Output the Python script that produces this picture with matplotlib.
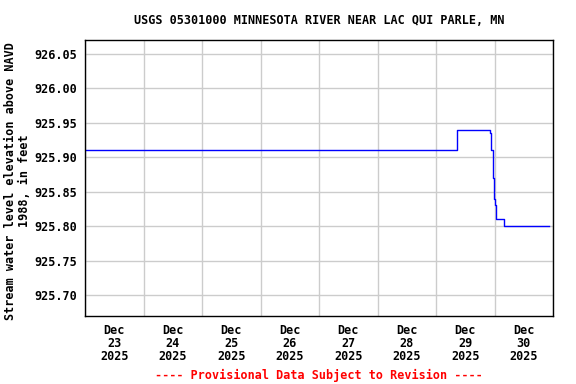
import matplotlib
matplotlib.use("Agg")
import matplotlib.pyplot as plt
import matplotlib.dates as mdates
import numpy as np
from datetime import datetime, timedelta

# Data (15-min gauge record, step changes)
times = [
    "2025-12-23 00:00", "2025-12-29 08:30", "2025-12-29 08:45",
    "2025-12-29 22:15", "2025-12-29 22:45", "2025-12-29 23:15",
    "2025-12-29 23:30", "2025-12-29 23:45", "2025-12-30 00:00",
    "2025-12-30 00:30", "2025-12-30 00:45", "2025-12-30 04:00",
    "2025-12-30 22:30",
]
values = [925.91, 925.92, 925.94, 925.935, 925.91, 925.90,
          925.87, 925.84, 925.83, 925.825, 925.81, 925.80, 925.80]
yticks = [925.70, 925.75, 925.80, 925.85, 925.90, 925.95, 926.00, 926.05]
day_labels = ["23", "24", "25", "26", "27", "28", "29", "30"]

title = "USGS 05301000 MINNESOTA RIVER NEAR LAC QUI PARLE, MN"
ylabel = "Stream water level elevation above NAVD\n1988, in feet"
footer = "---- Provisional Data Subject to Revision ----"

t = [datetime.strptime(s, "%Y-%m-%d %H:%M") for s in times]

font = {"family": "DejaVu Sans Mono", "weight": "bold", "size": 8.5}

fig = plt.figure(figsize=(5.76, 3.84), dpi=100)
ax = fig.add_axes([85/576, 1-316/384, (553-85)/576, (316-40)/384])

ax.plot(t, values, color="#0000ff", linewidth=1.0, drawstyle="steps-post")

start = datetime(2025, 12, 23)
end = datetime(2025, 12, 31)
ax.set_xlim(start, end)
ax.set_ylim(925.6695, 926.0703)

# grid at midnight, labels at noon
midnights = [start + timedelta(days=i) for i in range(9)]
noons = [start + timedelta(days=i, hours=12) for i in range(8)]
ax.set_xticks(midnights)
ax.set_xticklabels([""] * len(midnights))
ax.set_xticks(noons, minor=True)
labs = ax.set_xticklabels([f"Dec\n{d}\n2025" for d in day_labels], minor=True, **font)
for lb in labs:
    lb.set_linespacing(1.0)
ax.tick_params(axis="x", which="both", length=0)
ax.tick_params(axis="x", which="minor", pad=6)

ax.set_yticks(yticks)
ax.set_yticklabels([f"{v:.2f}" for v in yticks], **font)
ax.tick_params(axis="y", length=0, pad=6)

ax.grid(True, which="major", color="#cccccc", linewidth=1.0)
ax.set_axisbelow(True)
for sp in ax.spines.values():
    sp.set_color("black")
    sp.set_linewidth(1.0)

fig.text(319/576, 1-20/384, title, ha="center", va="center", **font)
fig.text(18/576, 1-181/384, ylabel, ha="center", va="center", rotation=90,
         multialignment="center", linespacing=1.1, **font)
fig.text(319/576, 1-375/384, footer, ha="center", va="center", color="#ff0000", **font)

fig.savefig("out.png", dpi=100)
